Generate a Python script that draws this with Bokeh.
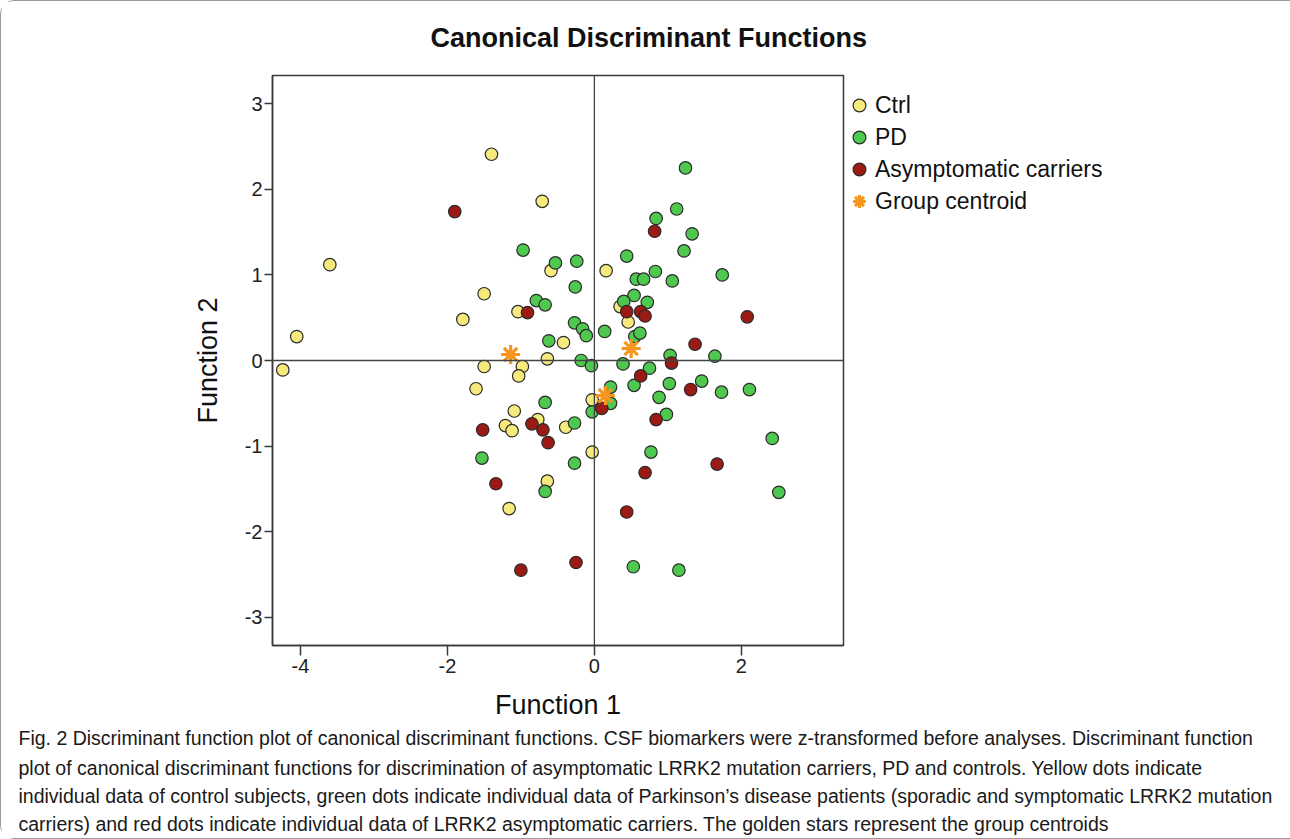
from bokeh.plotting import figure
from bokeh.models import Range1d, Span, Legend, LegendItem, FixedTicker, Title
from bokeh.embed import file_html
from bokeh.resources import INLINE

# ---------------- data ----------------
ctrl_x = [-1.40, -0.71, -3.60, -0.59, -1.50, -1.04, -1.79, -4.05, -0.64, -4.24,
          -1.50, -0.98, -1.03, -1.61, -1.09, -1.21, -1.12, -0.77, -0.64, -1.16,
          -0.39, -0.03, -0.03, -0.42, 0.16, 0.35, 0.46]
ctrl_y = [2.41, 1.86, 1.12, 1.05, 0.78, 0.57, 0.48, 0.28, 0.02, -0.11,
          -0.07, -0.07, -0.18, -0.33, -0.59, -0.76, -0.82, -0.69, -1.41, -1.73,
          -0.78, -0.46, -1.07, 0.21, 1.05, 0.63, 0.45]

pd_x = [-0.97, -0.53, -0.79, -0.67, -0.62, -0.24, -0.26, -0.27, -0.16, -0.11,
        -0.18, -0.04, 0.14, 0.39, 1.24, 1.12, 0.84, 1.33, 1.22, 0.44,
        1.74, 0.83, 1.06, 0.57, 0.67, 0.54, 0.40, 0.72, 0.55, 0.62,
        1.03, 1.64, 0.75, 0.22, 0.54, 1.02, 1.46, 0.88, 1.73, 2.11,
        0.22, -0.03, -0.67, -0.27, 0.98, 2.42, 0.77, -0.27, -0.67, 2.51,
        0.53, 1.15, -1.53]
pd_y = [1.29, 1.14, 0.70, 0.65, 0.23, 1.16, 0.86, 0.44, 0.37, 0.29,
        0.00, -0.06, 0.34, -0.04, 2.25, 1.77, 1.66, 1.48, 1.28, 1.22,
        1.00, 1.04, 0.93, 0.95, 0.95, 0.76, 0.69, 0.68, 0.28, 0.32,
        0.06, 0.05, -0.09, -0.31, -0.29, -0.27, -0.24, -0.43, -0.37, -0.34,
        -0.50, -0.60, -0.49, -0.73, -0.63, -0.91, -1.07, -1.20, -1.53, -1.54,
        -2.41, -2.45, -1.14]

asym_x = [-1.90, -0.91, 0.82, 0.44, 0.63, 0.69, 2.08, 1.37, 1.05, 0.63,
          1.31, 0.10, 0.84, 1.67, 0.69, 0.44, -0.25, -0.70, -0.63, -1.52,
          -0.85, -1.34, -1.00]
asym_y = [1.74, 0.56, 1.51, 0.57, 0.57, 0.52, 0.51, 0.19, -0.03, -0.18,
          -0.34, -0.56, -0.69, -1.21, -1.31, -1.77, -2.36, -0.81, -0.96, -0.81,
          -0.74, -1.44, -2.45]

centroid_x = [-1.14, 0.50, 0.15]
centroid_y = [0.07, 0.14, -0.41]

x_ticks = [-4, -2, 0, 2]
y_ticks = [-3, -2, -1, 0, 1, 2, 3]

title_text = "Canonical Discriminant Functions"
x_label = "Function 1"
y_label = "Function 2"
legend_labels = ["Ctrl", "PD", "Asymptomatic carriers", "Group centroid"]

caption_lines = [
    "Fig. 2 Discriminant function plot of canonical discriminant functions. CSF biomarkers were z-transformed before analyses. Discriminant function",
    "plot of canonical discriminant functions for discrimination of asymptomatic LRRK2 mutation carriers, PD and controls. Yellow dots indicate",
    "individual data of control subjects, green dots indicate individual data of Parkinson\u2019s disease patients (sporadic and symptomatic LRRK2 mutation",
    "carriers) and red dots indicate individual data of LRRK2 asymptomatic carriers. The golden stars represent the group centroids",
]

# ---------------- layout (figure pixels) ----------------
FL, FT, FW, FH = 271, 74, 571, 570
MB_RIGHT, MB_BOTTOM = 444, 193
XR = (-4.38, 3.39)
YR = (-3.33, 3.33)
FONT = "Liberation Sans"

p = figure(frame_width=FW, frame_height=FH, output_backend="svg", toolbar_location=None,
           x_range=Range1d(*XR), y_range=Range1d(*YR),
           min_border_left=FL, min_border_top=FT,
           min_border_right=MB_RIGHT, min_border_bottom=MB_BOTTOM,
           background_fill_color="white", border_fill_color="white")
p.styles = {"border": "1.5px solid #9a9a9a", "border-radius": "14px"}

p.title.text = title_text
p.title.align = "left"
p.title.offset = 158
p.title.vertical_align = "top"
p.title.standoff = 41
p.title.text_font = FONT
p.title.text_font_size = "27px"
p.title.text_font_style = "bold"
p.title.text_color = "#111111"

p.xgrid.visible = False
p.ygrid.visible = False
p.outline_line_color = "#3a3a3a"
p.outline_line_width = 1.5

for ax in (p.xaxis[0], p.yaxis[0]):
    ax.axis_line_color = "#3a3a3a"
    ax.axis_line_width = 1.5
    ax.major_tick_line_color = "#3a3a3a"
    ax.major_tick_line_width = 1.5
    ax.major_tick_in = 0
    ax.minor_tick_line_color = None
    ax.major_label_text_font = FONT
    ax.major_label_text_font_size = "20px"
    ax.major_label_text_color = "#222222"
    ax.axis_label_text_font = FONT
    ax.axis_label_text_font_size = "27px"
    ax.axis_label_text_font_style = "normal"
    ax.axis_label_text_color = "#111111"

p.xaxis.ticker = FixedTicker(ticks=x_ticks)
p.yaxis.ticker = FixedTicker(ticks=y_ticks)
p.xaxis.major_label_overrides = {t: str(t) for t in x_ticks}
p.yaxis.major_label_overrides = {t: str(t) for t in y_ticks}
p.xaxis.major_tick_out = 10
p.yaxis.major_tick_out = 8
p.xaxis.major_label_standoff = 3
p.yaxis.major_label_standoff = 2
p.xaxis.axis_label = x_label
p.yaxis.axis_label = y_label
p.xaxis.axis_label_standoff = 14
p.yaxis.axis_label_standoff = 19

p.add_layout(Span(location=0, dimension="height", line_color="#444444", line_width=1.3))
p.add_layout(Span(location=0, dimension="width", line_color="#444444", line_width=1.3))

common = dict(size=12.5, line_color="#2a2a2a", line_width=1.2)
r_ctrl = p.scatter(ctrl_x, ctrl_y, fill_color="#F7EA7C", **common)
r_pd = p.scatter(pd_x, pd_y, fill_color="#4FC84F", **common)
r_asym = p.scatter(asym_x, asym_y, fill_color="#9B1B14", **common)
r_cent = p.scatter(centroid_x, centroid_y, marker="asterisk", size=19,
                   line_color="#F7961E", line_width=3.2)
p.scatter(centroid_x, centroid_y, size=9, fill_color="#F7961E", line_color=None)

legend = Legend(items=[LegendItem(label=legend_labels[0], renderers=[r_ctrl]),
                       LegendItem(label=legend_labels[1], renderers=[r_pd]),
                       LegendItem(label=legend_labels[2], renderers=[r_asym]),
                       LegendItem(label=legend_labels[3], renderers=[r_cent])],
                location="top_left")
legend.title = " "
legend.title_text_font_size = "10px"
legend.title_standoff = 3
legend.glyph_width = 32
legend.glyph_height = 32
legend.spacing = 0
legend.padding = 0
legend.margin = 0
legend.label_standoff = -4
legend.label_text_font = FONT
legend.label_text_font_size = "23px"
legend.label_text_color = "#111111"
legend.border_line_color = None
legend.background_fill_alpha = 0
p.add_layout(legend, "right")

# caption lines stacked below the x axis
for i, line in enumerate(caption_lines):
    p.add_layout(Title(text=line, align="left", offset=18 - (FL + 1),
                       vertical_align="middle", standoff=7 if i == 0 else 4,
                       text_font=FONT, text_font_size="19.5px",
                       text_font_style="normal", text_color="#1a1a1a"), "below")

open("out.html", "w").write(file_html(p, INLINE))
